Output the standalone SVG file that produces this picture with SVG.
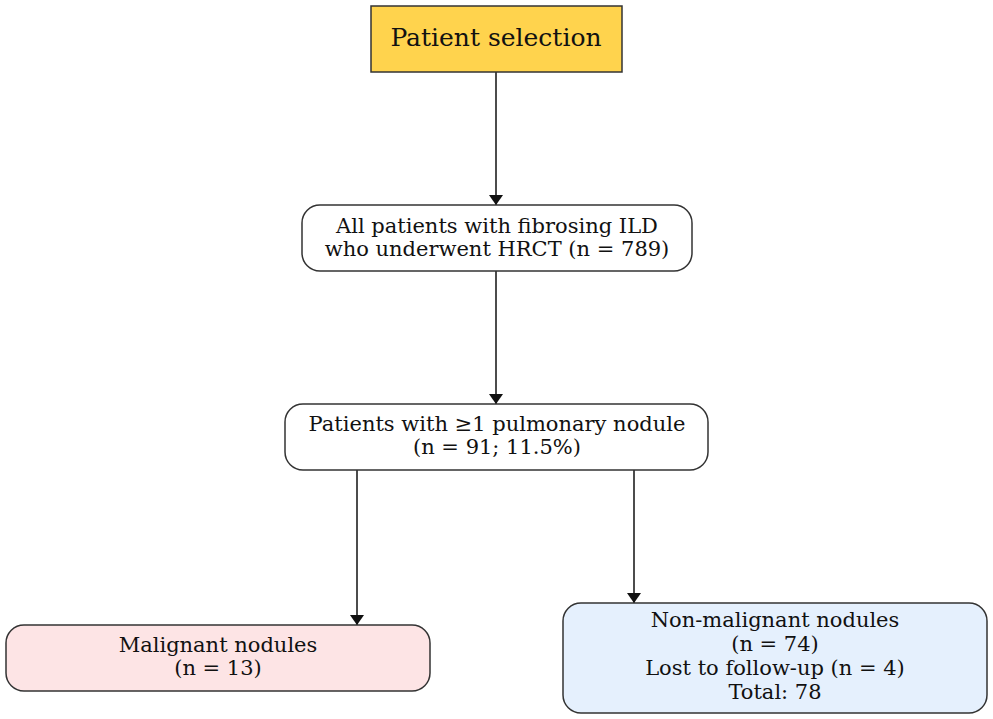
<svg xmlns="http://www.w3.org/2000/svg" width="993" height="719" viewBox="0 0 993 719">
<style>
.n{stroke:#333;stroke-width:1.5}
text{font-family:"DejaVu Serif","Liberation Serif",serif;font-size:21px;fill:#111;text-anchor:middle}
.e{stroke:#111;stroke-width:1.5;fill:none;marker-end:url(#a)}
</style>
<defs><marker id="a" markerWidth="10" markerHeight="14" refX="10" refY="7" orient="auto" markerUnits="userSpaceOnUse"><path d="M0,0L14,7L0,14z" transform="scale(0.72,1)" fill="#111"/></marker></defs>
<rect width="993" height="719" fill="#fff"/>
<g id="connectors">
<path class="e" d="M496,72V205"/>
<path class="e" d="M496,271V404"/>
<path class="e" d="M357,470V625"/>
<path class="e" d="M634,470V603"/>
</g>
<g id="n1"><rect class="n" x="371" y="6" width="251" height="66" fill="#ffd34d"/><text x="496" y="46" style="font-size:25px">Patient selection</text></g>
<g id="n2"><rect class="n" x="302" y="205" width="390" height="66" rx="18" fill="#fff"/><text x="497" y="233">All patients with fibrosing ILD</text><text x="497" y="256">who underwent HRCT (n = 789)</text></g>
<g id="n3"><rect class="n" x="285" y="404" width="423" height="66" rx="18" fill="#fff"/><text x="497" y="431">Patients with ≥1 pulmonary nodule</text><text x="497" y="454">(n = 91; 11.5%)</text></g>
<g id="n4"><rect class="n" x="6" y="625" width="424" height="66" rx="18" fill="#fde4e5"/><text x="218" y="652">Malignant nodules</text><text x="218" y="675">(n = 13)</text></g>
<g id="n5"><rect class="n" x="563" y="603" width="424" height="110" rx="18" fill="#e5f0fd"/><text x="775" y="627">Non-malignant nodules</text><text x="775" y="651">(n = 74)</text><text x="775" y="675">Lost to follow-up (n = 4)</text><text x="775" y="699">Total: 78</text></g>
</svg>
